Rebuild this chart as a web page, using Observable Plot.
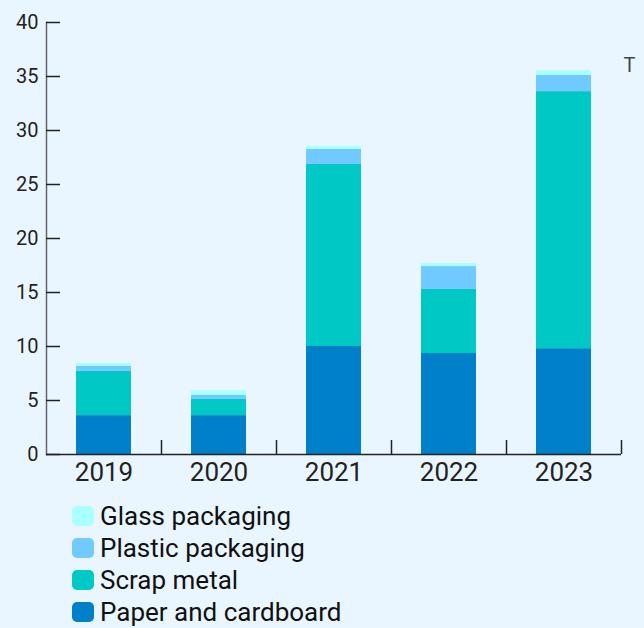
<!DOCTYPE html>
<html>
<head>
<meta charset="utf-8">
<script src="https://cdn.jsdelivr.net/npm/d3@7"></script>
<script src="https://cdn.jsdelivr.net/npm/@observablehq/plot@0.6"></script>
<style>
  html, body { margin: 0; padding: 0; background: #EAF6FF; }
  body { width: 644px; height: 628px; overflow: hidden; font-family: Roboto, "Noto Sans", sans-serif; }
  #legend { margin-left: 72px; margin-top: 5px; }
  .row { display: flex; align-items: center; height: 32px; }
  .sw { width: 22px; height: 20px; border-radius: 5px; margin-right: 6px; }
  .lab { font-size: 26px; color: #111; }
</style>
</head>
<body>
<div id="chart"></div>
<div id="legend"></div>
<script>
const years = ["2019", "2020", "2021", "2022", "2023"];
const series = ["Paper and cardboard", "Scrap metal", "Plastic packaging", "Glass packaging"];
const colors = ["#0080C8", "#00C8C5", "#70CAFF", "#AAFFFF"];
const paper = [3.6, 3.6, 10.0, 9.35, 9.8];
const scrap = [4.1, 1.5, 16.85, 5.93, 23.8];
const plastic = [0.45, 0.37, 1.4, 2.12, 1.5];
const glass = [0.3, 0.45, 0.28, 0.28, 0.44];
const yTicks = [0, 5, 10, 15, 20, 25, 30, 35, 40];
const unit = "T";

const values = [paper, scrap, plastic, glass];
const rows = [];
series.forEach((s, i) => years.forEach((y, j) => rows.push({year: y, series: s, value: values[i][j]})));

const chart = Plot.plot({
  width: 644,
  height: 495,
  marginLeft: 46,
  marginRight: 23,
  marginTop: 22,
  marginBottom: 41,
  style: {background: "#EAF6FF", fontFamily: "Roboto, sans-serif", color: "#222"},
  x: {domain: years, paddingInner: 0.52, paddingOuter: 0.26, label: null},
  y: {domain: [0, 40], label: null},
  color: {domain: series, range: colors},
  marks: [
    Plot.barY(rows, {x: "year", y: "value", fill: "series"}),
    Plot.frame({anchor: "left", stroke: "#666", strokeWidth: 1.5}),
    Plot.tickY(yTicks, {y: d => d, insetRight: 561, stroke: "#222", strokeWidth: 1.5}),
    Plot.axisY({ticks: yTicks, tickSize: 0, tickPadding: 8, fontSize: 20, label: null}),
    Plot.ruleY([0], {stroke: "#222", strokeWidth: 1.5}),
    Plot.ruleX(years, {x: d => d, dx: 57.5, insetTop: 418, stroke: "#222", strokeWidth: 1.5}),
    Plot.axisX({tickSize: 0, tickPadding: 8, fontSize: 26, label: null}),
    Plot.text([unit], {frameAnchor: "top-right", dx: 8, dy: 43, fontSize: 20, fill: "#444", textAnchor: "middle", lineAnchor: "middle"})
  ]
});
document.getElementById("chart").appendChild(chart);

const legend = document.getElementById("legend");
[...series].reverse().forEach((s) => {
  const i = series.indexOf(s);
  const r = document.createElement("div");
  r.className = "row";
  r.innerHTML = `<div class="sw" style="background:${colors[i]}"></div><span class="lab">${s}</span>`;
  legend.appendChild(r);
});
</script>
</body>
</html>
